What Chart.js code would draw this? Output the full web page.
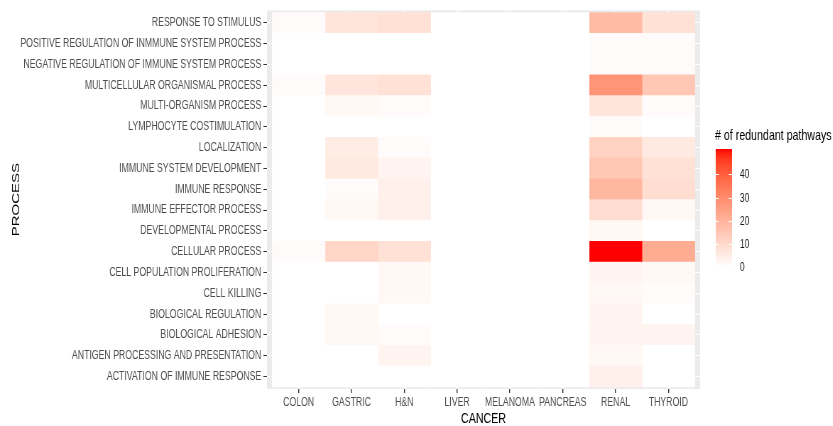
<!DOCTYPE html>
<html>
<head>
<meta charset="utf-8">
<script src="https://cdn.jsdelivr.net/npm/chart.js@4.4.0/dist/chart.umd.min.js"></script>
<style>
  html, body { margin: 0; padding: 0; background: #fff; overflow: hidden; }
  /* the figure is drawn wide and narrowed afterwards, so its lettering comes out condensed */
  #wrap { width: 1173px; height: 426px; transform: scaleX(0.71); transform-origin: 0 0; }
</style>
</head>
<body>
<div id="wrap"><canvas id="heat"></canvas></div>
<script>
const cancers = ['COLON', 'GASTRIC', 'H&N', 'LIVER', 'MELANOMA', 'PANCREAS', 'RENAL', 'THYROID'];

const processes = [
  'RESPONSE TO STIMULUS',
  'POSITIVE REGULATION OF INMMUNE SYSTEM PROCESS',
  'NEGATIVE REGULATION OF IMMUNE SYSTEM PROCESS',
  'MULTICELLULAR ORGANISMAL PROCESS',
  'MULTI-ORGANISM PROCESS',
  'LYMPHOCYTE COSTIMULATION',
  'LOCALIZATION',
  'IMMUNE SYSTEM DEVELOPMENT',
  'IMMUNE RESPONSE',
  'IMMUNE EFFECTOR PROCESS',
  'DEVELOPMENTAL PROCESS',
  'CELLULAR PROCESS',
  'CELL POPULATION PROLIFERATION',
  'CELL KILLING',
  'BIOLOGICAL REGULATION',
  'BIOLOGICAL ADHESION',
  'ANTIGEN PROCESSING AND PRESENTATION',
  'ACTIVATION OF IMMUNE RESPONSE'
];

// redundant pathways per process, one list per cancer (same order as processes)
const colon    = [1, 0, 0, 1, 0, 0, 0, 0, 0, 0, 0, 1, 0, 0, 0, 0, 0, 0];
const gastric  = [7, 0, 0, 7, 2, 0, 5, 6, 1, 2, 0, 11, 0, 0, 2, 2, 0, 0];
const hn       = [8, 0, 0, 8, 1, 0, 1, 3, 4, 4, 0, 8, 2, 2, 0, 1, 3, 0];
const liver    = [0, 0, 0, 0, 0, 0, 0, 0, 0, 0, 0, 0, 0, 0, 0, 0, 0, 0];
const melanoma = [0, 0, 0, 0, 0, 0, 0, 0, 0, 0, 0, 0, 0, 0, 0, 0, 0, 0];
const pancreas = [0, 0, 0, 0, 0, 0, 0, 0, 0, 0, 0, 0, 0, 0, 0, 0, 0, 0];
const renal    = [18, 1, 1, 28, 7, 1, 12, 15, 19, 9, 2, 51, 3, 2, 3, 3, 2, 4];
const thyroid  = [8, 1, 1, 15, 1, 0, 6, 8, 9, 2, 0, 22, 2, 1, 0, 3, 0, 0];

const counts = [colon, gastric, hn, liver, melanoma, pancreas, renal, thyroid];
const maxCount = 51;
const keyTicks = [0, 10, 20, 30, 40];

const FONT = "'Liberation Sans', Arial, sans-serif";

// white -> red, blended in Lab space
const WX = 0.95047, WY = 1, WZ = 1.08883;
function lin(c) { c /= 255; return c <= 0.04045 ? c / 12.92 : Math.pow((c + 0.055) / 1.055, 2.4); }
function gam(c) {
  c = c <= 0.0031308 ? 12.92 * c : 1.055 * Math.pow(Math.max(c, 0), 1 / 2.4) - 0.055;
  return Math.round(Math.min(1, Math.max(0, c)) * 255);
}
function rgbToLab(rgb) {
  const r = lin(rgb[0]), g = lin(rgb[1]), b = lin(rgb[2]);
  const x = (0.4124 * r + 0.3576 * g + 0.1805 * b) / WX;
  const y = (0.2126 * r + 0.7152 * g + 0.0722 * b) / WY;
  const z = (0.0193 * r + 0.1192 * g + 0.9505 * b) / WZ;
  const f = t => t > 0.008856 ? Math.cbrt(t) : 7.787 * t + 16 / 116;
  const fx = f(x), fy = f(y), fz = f(z);
  return [116 * fy - 16, 500 * (fx - fy), 200 * (fy - fz)];
}
function labToRgb(lab) {
  const fy = (lab[0] + 16) / 116, fx = fy + lab[1] / 500, fz = fy - lab[2] / 200;
  const inv = t => t * t * t > 0.008856 ? t * t * t : (t - 16 / 116) / 7.787;
  const x = inv(fx) * WX, y = inv(fy) * WY, z = inv(fz) * WZ;
  const r = 3.2406 * x - 1.5372 * y - 0.4986 * z;
  const g = -0.9689 * x + 1.8758 * y + 0.0415 * z;
  const b = 0.0557 * x - 0.2040 * y + 1.0570 * z;
  return `rgb(${gam(r)},${gam(g)},${gam(b)})`;
}
const LOW = rgbToLab([255, 255, 255]);
const HIGH = rgbToLab([255, 0, 0]);
function fillFor(v) {
  const t = Math.max(0, Math.min(1, v / maxCount));
  return labToRgb(LOW.map((c, k) => c + (HIGH[k] - c) * t));
}

// one column of tiles per cancer, each tile spans one process row
const datasets = cancers.map((name, j) => ({
  label: name,
  data: processes.map((p, i) => ({ x: j + 1, y: [i + 0.5, i + 1.5] })),
  backgroundColor: counts[j].map(fillFor),
  borderWidth: 0,
  barPercentage: 1,
  categoryPercentage: 1,
  grouped: false
}));

// grey panel behind the tiles, colour key on the right
const panelAndKey = {
  id: 'panelAndKey',
  beforeDraw(chart) {
    const { ctx, chartArea: a } = chart;
    ctx.save();
    ctx.fillStyle = '#EBEBEB';
    ctx.fillRect(a.left, a.top, a.right - a.left, a.bottom - a.top);
    ctx.restore();
  },
  afterDraw(chart) {
    const ctx = chart.ctx;
    const bx = 1008, bw = 23, top = 149, bottom = 267;
    ctx.save();
    const grad = ctx.createLinearGradient(0, bottom, 0, top);
    for (let s = 0; s <= 24; s++) grad.addColorStop(s / 24, fillFor(maxCount * s / 24));
    ctx.fillStyle = grad;
    ctx.fillRect(bx, top, bw, bottom - top);

    ctx.strokeStyle = '#ffffff';
    ctx.lineWidth = 1;
    ctx.font = '12.3px ' + FONT;
    ctx.fillStyle = '#1a1a1a';
    ctx.textAlign = 'left';
    ctx.textBaseline = 'middle';
    keyTicks.forEach(v => {
      const y = Math.round(bottom - v / maxCount * (bottom - top)) + 0.5;
      ctx.beginPath();
      ctx.moveTo(bx, y); ctx.lineTo(bx + bw / 5, y);
      ctx.moveTo(bx + bw * 4 / 5, y); ctx.lineTo(bx + bw, y);
      ctx.stroke();
      ctx.fillText(String(v), bx + bw + 11, y);
    });

    ctx.font = '15px ' + FONT;
    ctx.fillStyle = '#000000';
    ctx.textBaseline = 'alphabetic';
    ctx.fillText('# of redundant pathways', bx - 1, 140);
    ctx.restore();
  }
};

new Chart(document.getElementById('heat'), {
  type: 'bar',
  data: { datasets },
  plugins: [panelAndKey],
  options: {
    responsive: true,
    maintainAspectRatio: false,
    devicePixelRatio: 1,
    animation: false,
    layout: { padding: { top: 7, right: 187, bottom: 0, left: 0 } },
    plugins: { legend: { display: false }, tooltip: { enabled: false } },
    scales: {
      x: {
        type: 'linear',
        offset: false,
        min: 0.4,
        max: 8.6,
        afterBuildTicks: s => { s.ticks = cancers.map((c, i) => ({ value: i + 1 })); },
        afterFit: s => { s.height = 37; },
        ticks: {
          autoSkip: false,
          maxRotation: 0,
          padding: 2,
          color: '#4D4D4D',
          font: { family: FONT, size: 12.3 },
          callback: v => cancers[v - 1]
        },
        grid: { offset: false, color: '#ffffff', lineWidth: 1.4, tickColor: '#333333', tickLength: 4, tickWidth: 1.4 },
        border: { display: false },
        title: {
          display: true,
          text: 'CANCER',
          color: '#000000',
          font: { family: FONT, size: 15, lineHeight: 1 },
          padding: { top: 0, bottom: 0 }
        }
      },
      y: {
        type: 'linear',
        reverse: true,
        offset: false,
        min: 0.4,
        max: 18.6,
        afterBuildTicks: s => { s.ticks = processes.map((p, i) => ({ value: i + 1 })); },
        afterFit: s => { s.width = 376; },
        ticks: {
          autoSkip: false,
          padding: 3,
          color: '#4D4D4D',
          font: { family: FONT, size: 12.3 },
          callback: v => processes[v - 1]
        },
        grid: { color: '#ffffff', lineWidth: 1, tickColor: '#333333', tickLength: 5, tickWidth: 1 },
        border: { display: false },
        title: {
          display: true,
          text: 'PROCESS',
          color: '#000000',
          font: { family: FONT, size: 15, lineHeight: 1 },
          padding: { top: 15, bottom: 0 }
        }
      }
    }
  }
});
</script>
</body>
</html>
